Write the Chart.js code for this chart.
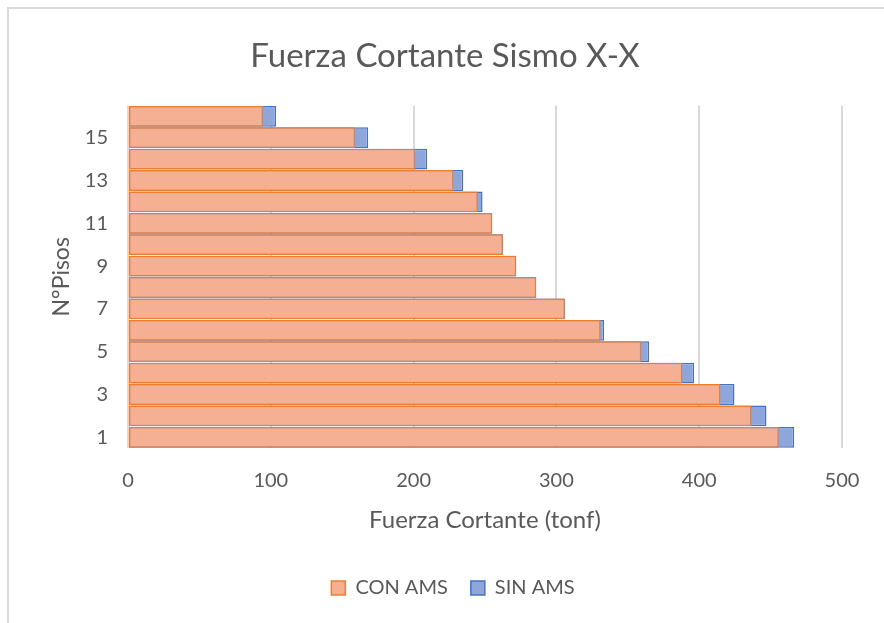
<!DOCTYPE html>
<html>
<head>
<meta charset="utf-8">
<title>Fuerza Cortante Sismo X-X</title>
<script src="https://cdn.jsdelivr.net/npm/chart.js@4.4.1/dist/chart.umd.min.js"></script>
<style>
  html, body { margin: 0; padding: 0; background: #fff; }
  #wrap { width: 884px; height: 623px; }
</style>
</head>
<body>
<div id="wrap"><canvas id="cortanteChart" width="884" height="623"></canvas></div>
<script>
// Pisos (1 abajo, 16 arriba)
const pisos = ['1', '2', '3', '4', '5', '6', '7', '8', '9', '10', '11', '12', '13', '14', '15', '16'];

// Fuerza cortante por piso (tonf)
const conAms = [455.8, 436.6, 414.9, 388.2, 359.5, 331.0, 306.0, 285.9, 271.9, 262.6, 255.1, 245.0, 228.0, 201.1, 159.1, 94.6];
const sinAms = [466.5, 447.1, 424.7, 396.4, 364.9, 333.4, 306.0, 285.9, 271.9, 262.6, 255.1, 248.3, 234.8, 209.5, 168.2, 103.7];

const xTicks = [0, 100, 200, 300, 400, 500];

const textColor = '#595959';
const gridColor = '#d9d9d9';
const fontFamily = 'Lato, "Open Sans", sans-serif';

// marco gris claro (lado izquierdo y superior)
const chartFrame = {
  id: 'chartFrame',
  beforeDraw(chart) {
    const ctx = chart.ctx;
    ctx.save();
    ctx.strokeStyle = gridColor;
    ctx.lineWidth = 2;
    ctx.beginPath();
    ctx.moveTo(8, chart.height);
    ctx.lineTo(8, 8);
    ctx.lineTo(chart.width, 8);
    ctx.stroke();
    ctx.restore();
  },
  // la leyenda va un poco a la derecha del centro
  afterLayout(chart) {
    if (chart.legend) {
      chart.legend.left += 8;
      chart.legend.right += 8;
    }
  }
};

new Chart(document.getElementById('cortanteChart'), {
  type: 'bar',
  data: {
    labels: pisos,
    datasets: [
      {
        label: 'CON AMS',
        data: conAms,
        backgroundColor: '#F5B093',
        borderColor: '#ED7D31',
        borderWidth: 1.5,
        borderSkipped: false,
        order: 1
      },
      {
        label: 'SIN AMS',
        data: sinAms,
        backgroundColor: '#8FA6DB',
        borderColor: '#4472C4',
        borderWidth: 1.5,
        borderSkipped: false,
        order: 2
      }
    ]
  },
  options: {
    indexAxis: 'y',
    responsive: false,
    animation: false,
    grouped: false,
    categoryPercentage: 1,
    barPercentage: 0.97,
    layout: { padding: { left: 48, right: 42, top: 0, bottom: 15 } },
    plugins: {
      title: {
        display: true,
        text: 'Fuerza Cortante Sismo X-X',
        color: textColor,
        font: { family: fontFamily, size: 33, weight: 'normal' },
        padding: { top: 37, bottom: 29 }
      },
      legend: {
        position: 'bottom',
        labels: {
          color: textColor,
          font: { family: fontFamily, size: 20 },
          boxWidth: 14,
          boxHeight: 14,
          padding: 23
        }
      },
      tooltip: { enabled: false }
    },
    scales: {
      x: {
        min: 0,
        max: 500,
        afterBuildTicks: s => { s.ticks = xTicks.map(v => ({ value: v })); },
        afterFit: s => { s.height = 107; },
        grid: { color: gridColor, lineWidth: 2, drawTicks: false },
        border: { display: false },
        ticks: { color: textColor, font: { family: fontFamily, size: 20 }, padding: 21 },
        title: {
          display: true,
          text: 'Fuerza Cortante (tonf)',
          color: textColor,
          font: { family: fontFamily, size: 24 },
          padding: { top: 0, bottom: 20 }
        }
      },
      y: {
        reverse: true,
        afterFit: s => { s.width = 80; },
        grid: { display: false, drawTicks: false },
        border: { display: false },
        ticks: {
          color: textColor,
          font: { family: fontFamily, size: 20 },
          padding: 20,
          autoSkip: false,
          callback: (v, i) => (i % 2 === 0 ? pisos[i] : '')
        },
        title: {
          display: true,
          text: 'N°Pisos',
          color: textColor,
          font: { family: fontFamily, size: 23 },
          padding: { top: 0, bottom: 0 }
        }
      }
    }
  },
  plugins: [chartFrame]
});
</script>
</body>
</html>
